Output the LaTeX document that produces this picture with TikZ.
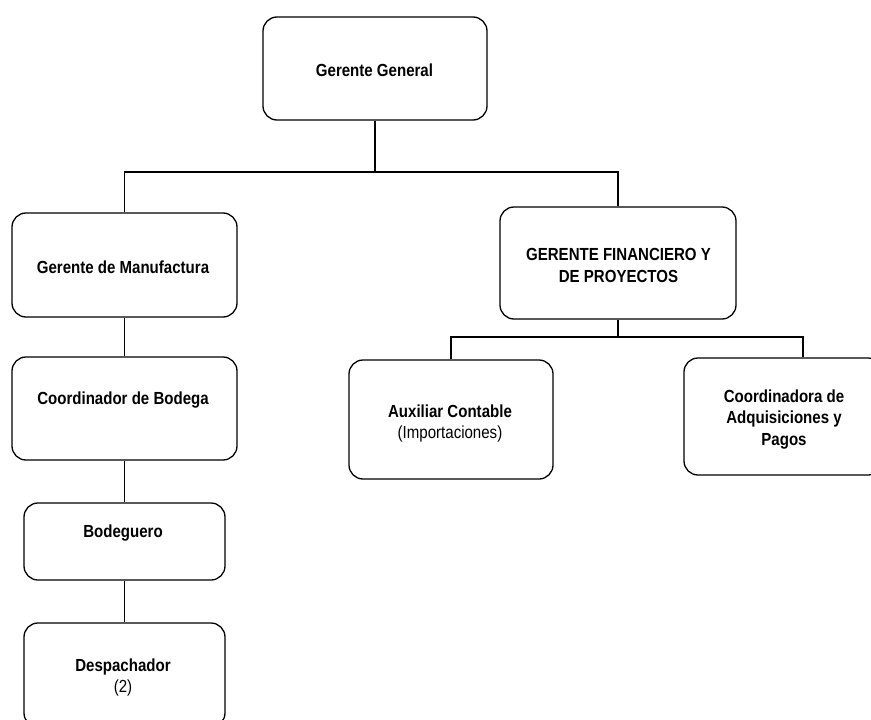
\documentclass[tikz,border=0pt]{standalone}
\usepackage{fontspec}
\setmainfont{Liberation Sans}[FakeStretch=0.86]
\begin{document}
\begin{tikzpicture}[x=1pt,y=-1pt,
  box/.style={draw=black, line width=1.3pt, rounded corners=14pt, inner sep=0pt},
  lbl/.style={font=\fontsize{17.5}{21.5}\selectfont\bfseries, anchor=base, align=center, inner sep=0pt},
  sub/.style={font=\fontsize{17.5}{21.5}\selectfont, anchor=base, inner sep=0pt},
  conn/.style={draw=black, line width=1.3pt}]
\useasboundingbox (0,0) rectangle (871,720);
% boxes
\node[box, minimum width=224pt, minimum height=103pt] (gg) at (375,68.5) {};
\node[box, minimum width=225pt, minimum height=104pt] (gm) at (124.5,265) {};
\node[box, minimum width=236pt, minimum height=112pt] (gf) at (618,263) {};
\node[box, minimum width=225pt, minimum height=103pt] (cb) at (124.5,408.5) {};
\node[box, minimum width=201pt, minimum height=77pt] (bo) at (124.5,541.5) {};
\node[box, minimum width=201pt, minimum height=104pt] (de) at (124.5,675) {};
\node[box, minimum width=204pt, minimum height=119pt] (ax) at (451,419.5) {};
\node[box, minimum width=198pt, minimum height=117pt] (ca) at (783,416.5) {};
% texts (base anchor = baseline of the last line)
\node[lbl] (tgg) at (374.5,76) {Gerente General};
\node[lbl] (tgm) at (123,273) {Gerente de Manufactura};
\node[lbl] (tgf) at (618.5,282) {GERENTE FINANCIERO Y\\DE PROYECTOS};
\node[lbl] (tcb) at (123,404) {Coordinador de Bodega};
\node[lbl] (tbo) at (123,537) {Bodeguero};
\node[lbl] (tde) at (123,671) {Despachador};
\node[sub] (tde2) at (123,692) {(2)};
\node[lbl] (tax) at (450,417) {Auxiliar Contable};
\node[sub] (tax2) at (450,438) {(Importaciones)};
\node[lbl] (tca) at (784,445) {Coordinadora de\\Adquisiciones y\\Pagos};
% connectors
\coordinate (bus1) at (375,172);
\coordinate (bus2) at (618,337);
\coordinate (xr) at (803,337);
\path[conn] (gg.south) -- (bus1);
\path[conn] (gm.north) |- (bus1);
\path[conn] (gf.north) |- (bus1);
\path[conn] (gf.south) -- (bus2);
\path[conn] (ax.north) |- (bus2);
\path[conn] (bus2) -- (xr) -- (ca.north -| xr);
\path[conn] (gm.south) -- (cb.north);
\path[conn] (cb.south) -- (bo.north);
\path[conn] (bo.south) -- (de.north);
\end{tikzpicture}
\end{document}
